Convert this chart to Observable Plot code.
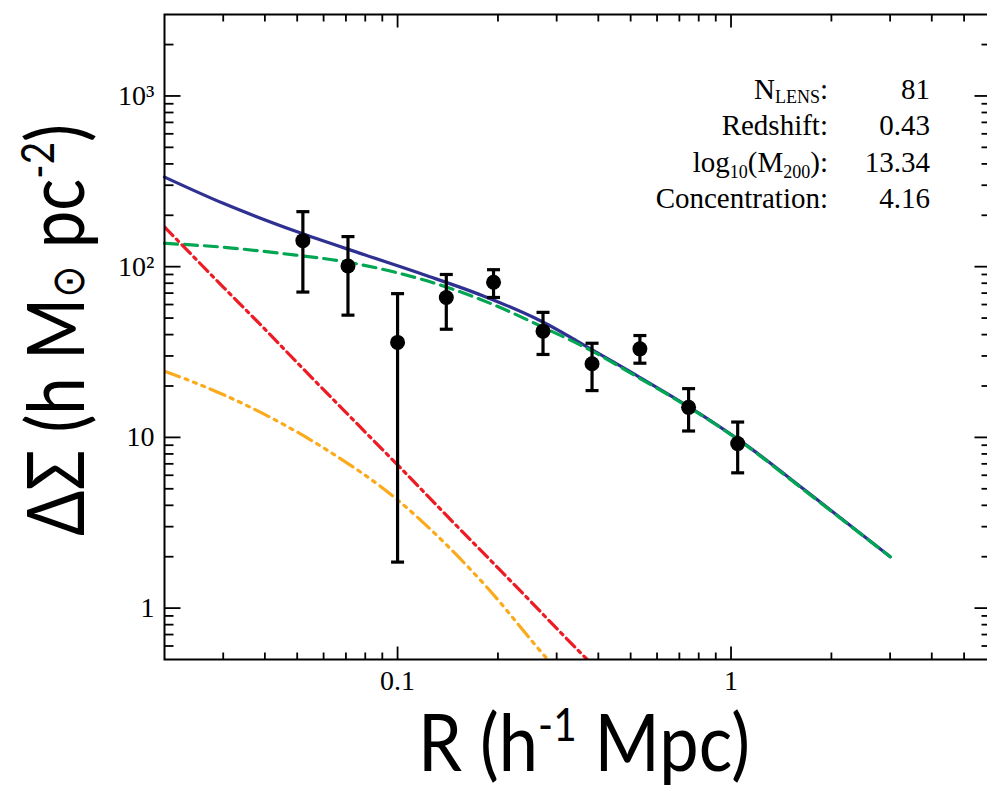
<!DOCTYPE html>
<html><head><meta charset="utf-8">
<script src="https://cdn.jsdelivr.net/npm/d3@7"></script>
<script src="https://cdn.jsdelivr.net/npm/@observablehq/plot@0.6"></script>
<style>html,body{margin:0;padding:0;background:#fff;overflow:hidden}</style>
</head><body><div id="chart"></div>
<script>
// ---- data points (R in h^-1 Mpc, DeltaSigma in h Msun pc^-2) ----
const R       = [0.052, 0.071, 0.100, 0.140, 0.194, 0.273, 0.383, 0.533, 0.746, 1.047];
const dSigma  = [142, 101, 36, 66, 81, 41.9, 27.0, 33.0, 15.0, 9.2];
const errHi   = [210, 150, 69.5, 90, 96, 54, 35.6, 39.5, 19.3, 12.3];
const errLo   = [71, 52, 1.86, 43, 66, 30.6, 18.8, 27.2, 10.9, 6.2];

// ---- model curves ----
const totalR   = [0.02, 0.03, 0.05, 0.08, 0.12, 0.18, 0.27, 0.386, 0.532, 0.752, 1.062, 1.68, 3.0];
const totalV   = [335, 235, 160, 117, 89.7, 67.6, 47.9, 32.3, 22.5, 15.0, 9.6, 4.85, 2.0];
const nfwR     = [0.02, 0.03, 0.045, 0.0714, 0.1, 0.14, 0.1935, 0.273, 0.386, 0.532, 0.752, 1.062, 1.68, 3.0];
const nfwV     = [137, 130, 119.4, 106, 92, 76, 60, 44.2, 31.8, 22.2, 14.9, 9.55, 4.8, 2.0];
const stellarR = [0.02, 0.03, 0.0386, 0.05, 0.07, 0.1, 0.15, 0.2, 0.25, 0.3, 0.4];
const stellarV = [171, 76, 46.2, 27.4, 14.0, 6.9, 3.05, 1.72, 1.1, 0.76, 0.43];
const twoHaloR = [0.02, 0.0238, 0.0386, 0.0605, 0.1, 0.1386, 0.185, 0.282, 0.32];
const twoHaloV = [24.4, 21.5, 14.1, 8.59, 4.3, 2.4, 1.33, 0.5, 0.38];

// ---- ticks ----
const xMajor = [0.1, 1];
const xLabels = ["0.1", "1"];
const xMinor = [0.03,0.04,0.05,0.06,0.07,0.08,0.09,0.2,0.3,0.4,0.5,0.6,0.7,0.8,0.9,2,3,4,5];
const yMajor = [1, 10, 100, 1000];
const yLabels = ["1", "10", "10\u00B2", "10\u00B3"];
const yMinor = [0.6,0.7,0.8,0.9,2,3,4,5,6,7,8,9,20,30,40,50,60,70,80,90,200,300,400,500,600,700,800,900,2000];

// ---- annotation ----
const annotValues = ["81", "0.43", "13.34", "4.16"];

const tbl = (xs, vs) => xs.map((r, i) => ({R: r, v: vs[i]}));
const pts = R.map((r, i) => ({R: r, v: dSigma[i], lo: errLo[i], hi: errHi[i]}));

const cap = {draw(c){ c.moveTo(-6.5, 0); c.lineTo(6.5, 0); }};
const tick = (dx, dy) => ({draw(c){ c.moveTo(0, 0); c.lineTo(dx, dy); }});
const tk = {stroke: "black", fill: "none", strokeWidth: 1.8};

const chart = Plot.plot({
  width: 987, height: 787,
  marginLeft: 164, marginRight: -3, marginTop: 14, marginBottom: 128,
  x: {type: "log", domain: [0.02, 6], axis: null},
  y: {type: "log", domain: [0.5, 3000], axis: null},
  style: {background: "white"},
  marks: [
    Plot.line(tbl(totalR, totalV), {x: "R", y: "v", stroke: "#2e3192", strokeWidth: 3.2, curve: "monotone-x"}),
    Plot.line(tbl(nfwR, nfwV), {x: "R", y: "v", stroke: "#00a651", strokeWidth: 3.2, strokeDasharray: "13,7", curve: "monotone-x"}),
    Plot.line(tbl(stellarR, stellarV), {x: "R", y: "v", stroke: "#ed1c24", strokeWidth: 3.2, strokeDasharray: "12,5,3,5", curve: "monotone-x", clip: true}),
    Plot.line(tbl(twoHaloR, twoHaloV), {x: "R", y: "v", stroke: "#fbaa1b", strokeWidth: 3.2, strokeDasharray: "16,6,3,6,3,6,3,6", curve: "monotone-x", clip: true}),
    Plot.ruleX(pts, {x: "R", y1: "lo", y2: "hi", stroke: "black", strokeWidth: 3.2}),
    Plot.dot(pts, {x: "R", y: "lo", symbol: cap, stroke: "black", fill: "none", strokeWidth: 3.2}),
    Plot.dot(pts, {x: "R", y: "hi", symbol: cap, stroke: "black", fill: "none", strokeWidth: 3.2}),
    Plot.dot(pts, {x: "R", y: "v", r: 7.5, fill: "black", stroke: "none"}),
    Plot.frame({stroke: "black", strokeWidth: 2}),
    // left / right axis ticks
    Plot.dot(yMajor, {y: d => d, frameAnchor: "left", symbol: tick(16, 0), ...tk}),
    Plot.dot(yMinor, {y: d => d, frameAnchor: "left", symbol: tick(9, 0), ...tk}),
    Plot.dot(yMajor, {y: d => d, frameAnchor: "right", symbol: tick(-16, 0), ...tk}),
    Plot.dot(yMinor, {y: d => d, frameAnchor: "right", symbol: tick(-9, 0), ...tk}),
    // bottom / top axis ticks
    Plot.dot(xMajor, {x: d => d, frameAnchor: "bottom", symbol: tick(0, -13), ...tk}),
    Plot.dot(xMinor, {x: d => d, frameAnchor: "bottom", symbol: tick(0, -7), ...tk}),
    Plot.dot(xMajor, {x: d => d, frameAnchor: "top", symbol: tick(0, 13), ...tk}),
    Plot.dot(xMinor, {x: d => d, frameAnchor: "top", symbol: tick(0, 7), ...tk}),
    // tick labels
    Plot.text(yMajor, {y: d => d, text: (d, i) => yLabels[i], frameAnchor: "left", dx: -10, textAnchor: "end",
      fontSize: 28, fontFamily: "Liberation Serif, serif", fill: "black"}),
    Plot.text(xMajor, {x: d => d, text: (d, i) => xLabels[i], frameAnchor: "bottom", dy: 30,
      fontSize: 28, fontFamily: "Liberation Serif, serif", fill: "black"})
  ]
});
document.getElementById("chart").appendChild(chart);

const svg = d3.select(chart);
const big = "Lato, 'Open Sans', sans-serif";

// x axis label
const xl = svg.append("text").attr("x", 584).attr("y", 771).attr("text-anchor", "middle")
  .attr("font-family", big).attr("font-size", 80).attr("fill", "black");
xl.append("tspan").text("R (h");
xl.append("tspan").attr("font-size", 46).attr("dy", -30).text("-1");
xl.append("tspan").attr("dy", 30).text(" Mpc)");

// y axis label
const yl = svg.append("text").attr("text-anchor", "middle")
  .attr("font-family", big).attr("font-size", 80).attr("fill", "black");
yl.append("tspan").text("\u0394\u03A3 (h M");
yl.append("tspan").attr("font-size", 46).attr("font-family", "DejaVu Sans").text("\u2299");
yl.append("tspan").text(" pc");
yl.append("tspan").attr("font-size", 46).attr("dy", -30).text("-2");
yl.append("tspan").attr("dy", 30).text(")");

// horizontally squeeze to match original extents
(function(){
  const sx = 332 / xl.node().getComputedTextLength();
  xl.attr("transform", `translate(584,0) scale(${sx},1) translate(-584,0)`);
  const sy = 412 / yl.node().getComputedTextLength();
  yl.attr("transform", `translate(84,330) rotate(-90) scale(${sy},1)`);
})();

// annotation block
const ag = svg.append("g").attr("font-family", "Liberation Serif, 'Times New Roman', serif")
  .attr("font-size", 29).attr("fill", "black");
const base = [99, 135, 172, 208];
const l1 = ag.append("text").attr("x", 828).attr("y", base[0]).attr("text-anchor", "end");
l1.append("tspan").text("N");
l1.append("tspan").attr("font-size", 18).attr("dy", 4).text("LENS");
l1.append("tspan").attr("dy", -4).text(":");
ag.append("text").attr("x", 828).attr("y", base[1]).attr("text-anchor", "end").text("Redshift:");
const l3 = ag.append("text").attr("x", 828).attr("y", base[2]).attr("text-anchor", "end");
l3.append("tspan").text("log");
l3.append("tspan").attr("font-size", 18).attr("dy", 6).text("10");
l3.append("tspan").attr("dy", -6).text("(M");
l3.append("tspan").attr("font-size", 18).attr("dy", 6).text("200");
l3.append("tspan").attr("dy", -6).text("):");
ag.append("text").attr("x", 828).attr("y", base[3]).attr("text-anchor", "end").text("Concentration:");
annotValues.forEach((v, i) => {
  ag.append("text").attr("x", 930).attr("y", base[i]).attr("text-anchor", "end").text(v);
});
</script></body></html>
